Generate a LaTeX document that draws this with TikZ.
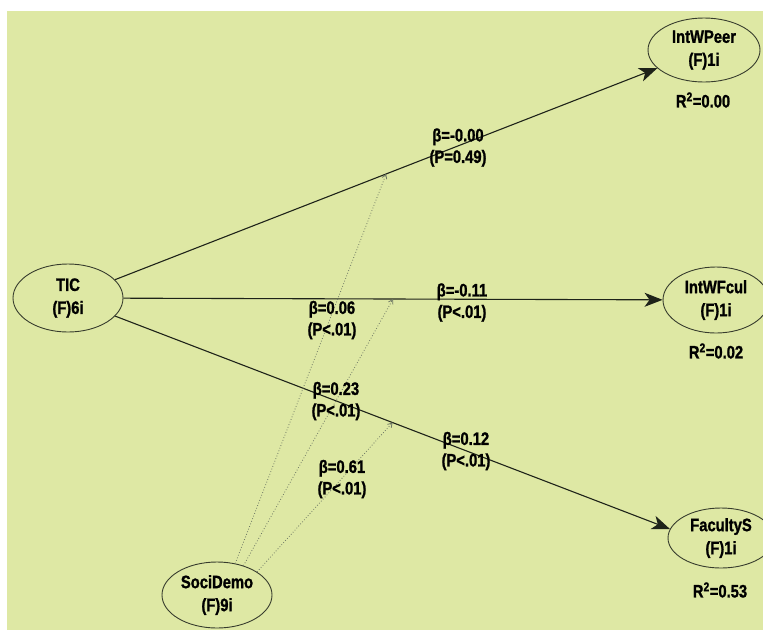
\documentclass[tikz,border=0pt]{standalone}
\usepackage{fontspec}
\setmainfont{Liberation Sans}[FakeStretch=0.82,BoldFeatures={FakeBold=1.2}]
\usetikzlibrary{shapes.geometric,arrows.meta}
\definecolor{bg}{RGB}{222,232,164}
\definecolor{edgecol}{RGB}{55,60,45}
\definecolor{linecol}{RGB}{30,35,25}
\definecolor{dotcol}{RGB}{110,120,100}
\begin{document}
\begin{tikzpicture}[x=1pt,y=-1pt,
  lv/.style={ellipse,draw=edgecol,line width=0.9pt,inner sep=0pt,align=center,
    font=\bfseries\fontsize{18}{23}\selectfont},
  lab/.style={align=center,inner sep=0pt,font=\bfseries\fontsize{18}{21.5}\selectfont},
  pathline/.style={draw=linecol,line width=1.1pt,-{Stealth[length=18pt,width=14pt,inset=5pt]}},
  modline/.style={draw=dotcol,line width=0.8pt,dotted,-{Straight Barb[length=4pt,width=5pt]}}]
\fill[white] (0,0) rectangle (763,630);
\fill[bg] (7,11) rectangle (763,630);
\useasboundingbox (0,0) rectangle (763,630);

\node[lv,minimum width=110pt,minimum height=68pt] (TIC) at (68,298) {TIC\\(F)6i};
\node[lv,minimum width=112pt,minimum height=64pt] (IntWPeer) at (704,50) {IntWPeer\\(F)1i};
\node[lv,minimum width=106pt,minimum height=66pt] (IntWFcul) at (716,300) {IntWFcul\\(F)1i};
\node[lv,minimum width=106pt,minimum height=60pt] (FacultyS) at (721,538) {FacultyS\\(F)1i};
\node[lv,minimum width=110pt,minimum height=66pt] (SociDemo) at (217,595) {SociDemo\\(F)9i};

\node[lab] (r1) at (703,100) {R\textsuperscript{2}=0.00};
\node[lab] (r2) at (716,351) {R\textsuperscript{2}=0.02};
\node[lab] (r3) at (720,590) {R\textsuperscript{2}=0.53};

\draw[pathline] (TIC) -- coordinate[pos=0.5] (m1) (IntWPeer);
\draw[pathline] (TIC) -- coordinate[pos=0.5] (m2) (IntWFcul);
\draw[pathline] (TIC) -- coordinate[pos=0.5] (m3) (FacultyS.170);

\draw[modline] (SociDemo.60) -- (m1);
\draw[modline] (SociDemo.48) -- (m2);
\draw[modline] (SociDemo.30) -- (m3);

\node[lab] (b1) at (458,147.5) {β=-0.00\\(P=0.49)};
\node[lab] (b2) at (462,302.5) {β=-0.11\\(P<.01)};
\node[lab] (b3) at (332,320) {β=0.06\\(P<.01)};
\node[lab] (b4) at (336,401) {β=0.23\\(P<.01)};
\node[lab] (b5) at (466,451) {β=0.12\\(P<.01)};
\node[lab] (b6) at (342,479) {β=0.61\\(P<.01)};
\end{tikzpicture}
\end{document}
